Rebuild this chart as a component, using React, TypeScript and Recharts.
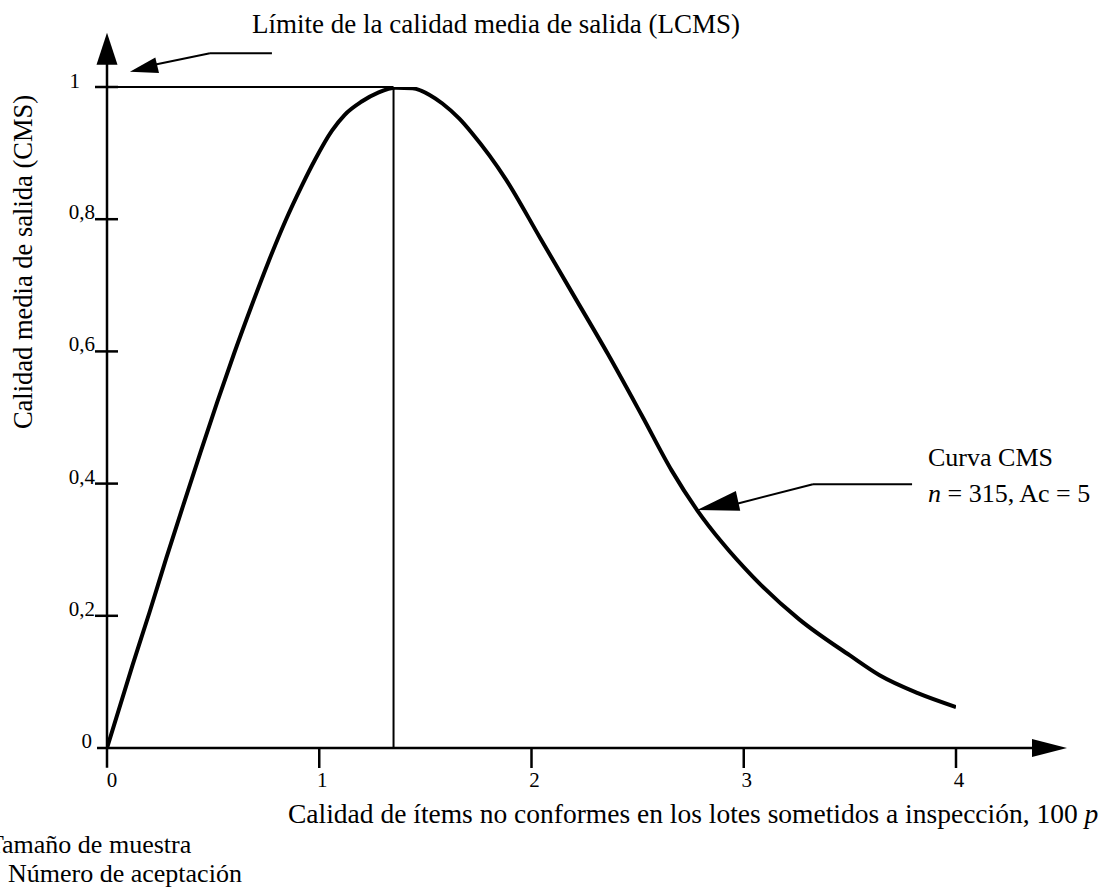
import React from "react";
import {
  LineChart,
  Line,
  XAxis,
  YAxis,
  ReferenceLine,
  ReferenceDot,
} from "recharts";

// Curva CMS (n = 315, Ac = 5)
const pValues = [
  0, 0.12, 0.2, 0.28, 0.36, 0.44, 0.52, 0.6, 0.68, 0.76, 0.84, 0.92, 0.98, 1.06,
  1.12, 1.2, 1.28, 1.36, 1.44, 1.52, 1.58, 1.66, 1.72, 1.88, 2.04, 2.2, 2.36,
  2.52, 2.66, 2.78, 2.9, 3.04, 3.26, 3.5, 3.64, 3.82, 4.0,
];
const cmsValues = [
  0, 0.125, 0.205, 0.288, 0.368, 0.447, 0.524, 0.598, 0.668, 0.735, 0.797,
  0.852, 0.89, 0.934, 0.958, 0.978, 0.992, 0.999, 0.998, 0.988, 0.975, 0.952,
  0.93, 0.86, 0.772, 0.684, 0.596, 0.503, 0.42, 0.36, 0.31, 0.26, 0.195, 0.14,
  0.11, 0.083, 0.062,
];
const xTicks = [0, 1, 2, 3, 4];
const yTicks = [0, 0.2, 0.4, 0.6, 0.8, 1];
const yTickLabels = ["0", "0,2", "0,4", "0,6", "0,8", "1"];
const lcmsValue = 1;
const lcmsP = 1.35;

const data = pValues.map((p, i) => ({ p, cms: cmsValues[i] }));

const FONT = "'Liberation Serif', 'Times New Roman', serif";

const XTick = ({ x, y, payload }: any) => {
  const v = payload.value;
  return (
    <g>
      {v !== 0 && <line x1={x} y1={y} x2={x} y2={y + 20} stroke="#000" strokeWidth={2.5} />}
      <text x={x + (v === 0 ? 5 : 3)} y={y + 39} textAnchor="middle" fontSize={21} fontFamily={FONT} fill="#000">
        {v}
      </text>
    </g>
  );
};

const YTick = ({ x, y, payload }: any) => {
  const v = payload.value;
  const idx = yTicks.indexOf(v);
  const dx = v === 0 ? 15 : v === 1 ? 27 : 12;
  return (
    <g>
      {v !== 0 && <line x1={x - 12} y1={y} x2={x + 11} y2={y} stroke="#000" strokeWidth={2.5} />}
      <text x={x - dx} y={y + (v === 1 ? 1 : 0)} textAnchor="end" fontSize={21} fontFamily={FONT} fill="#000">
        {yTickLabels[idx]}
      </text>
    </g>
  );
};

// triangle with its tip at (cx, cy), pointing along `angle` degrees
const arrowHead = (angle: number, len: number, half: number) => (props: any) => {
  const { cx, cy } = props;
  const a = (angle * Math.PI) / 180;
  const bx = cx - len * Math.cos(a);
  const by = cy - len * Math.sin(a);
  const nx = -Math.sin(a) * half;
  const ny = Math.cos(a) * half;
  return (
    <polygon
      points={`${cx},${cy} ${bx + nx},${by + ny} ${bx - nx},${by - ny}`}
      fill="#000"
    />
  );
};

export default function App() {
  return (
    <div style={{ position: "absolute", left: 0, top: 0, width: 1099, height: 888, background: "#fff" }}>
      <LineChart
        width={1099}
        height={888}
        data={data}
        margin={{ top: 87, right: 143, left: 67, bottom: 100 }}
      >
        <XAxis
          type="number"
          dataKey="p"
          domain={[0, 4]}
          ticks={xTicks}
          axisLine={false}
          tickLine={false}
          tickSize={0}
          tickMargin={0}
          height={40}
          tick={<XTick />}
          allowDataOverflow
        />
        <YAxis
          type="number"
          domain={[0, 1]}
          ticks={yTicks}
          axisLine={false}
          tickLine={false}
          tickSize={0}
          tickMargin={0}
          width={40}
          tick={<YTick />}
          allowDataOverflow
        />

        {/* axes with arrows */}
        <ReferenceLine segment={[{ x: -0.047, y: 0 }, { x: 4.45, y: 0 }]} stroke="#000" strokeWidth={2.5} ifOverflow="visible" />
        <ReferenceLine segment={[{ x: 0, y: -0.03 }, { x: 0, y: 1.05 }]} stroke="#000" strokeWidth={2.5} ifOverflow="visible" />
        <ReferenceDot x={4.523} y={0} r={0} ifOverflow="visible" shape={arrowHead(0, 35, 9)} />
        <ReferenceDot x={0} y={1.082} r={0} ifOverflow="visible" shape={arrowHead(-90, 32, 10.5)} />

        {/* LCMS lines */}
        <ReferenceLine segment={[{ x: 0, y: lcmsValue }, { x: lcmsP, y: lcmsValue }]} stroke="#000" strokeWidth={2} ifOverflow="visible" />
        <ReferenceLine segment={[{ x: lcmsP, y: 0 }, { x: lcmsP, y: lcmsValue }]} stroke="#000" strokeWidth={2} ifOverflow="visible" />

        {/* annotation arrows */}
        <ReferenceLine segment={[{ x: 0.777, y: 1.051 }, { x: 0.485, y: 1.051 }]} stroke="#000" strokeWidth={2} ifOverflow="visible" />
        <ReferenceLine segment={[{ x: 0.485, y: 1.051 }, { x: 0.2, y: 1.032 }]} stroke="#000" strokeWidth={2} ifOverflow="visible" />
        <ReferenceDot x={0.108} y={1.023} r={0} ifOverflow="visible" shape={arrowHead(166.6, 28, 8)} />

        <ReferenceLine segment={[{ x: 3.793, y: 0.399 }, { x: 3.326, y: 0.399 }]} stroke="#000" strokeWidth={2} ifOverflow="visible" />
        <ReferenceLine segment={[{ x: 3.326, y: 0.399 }, { x: 2.95, y: 0.368 }]} stroke="#000" strokeWidth={2} ifOverflow="visible" />
        <ReferenceDot x={2.78} y={0.36} r={0} ifOverflow="visible" shape={arrowHead(167.4, 42, 10)} />

        <Line
          type="monotone"
          dataKey="cms"
          stroke="#000"
          strokeWidth={4}
          dot={false}
          activeDot={false}
          isAnimationActive={false}
        />
      </LineChart>

      <svg
        width={1099}
        height={888}
        style={{ position: "absolute", left: 0, top: 0, pointerEvents: "none" }}
        fontFamily={FONT}
        fontSize={26}
        fill="#000"
      >
        <text x={252} y={33} fontSize={27}>Límite de la calidad media de salida (LCMS)</text>
        <text transform="translate(32,262) rotate(-90)" textAnchor="middle" fontSize={26.5}>
          Calidad media de salida (CMS)
        </text>
        <text x={288} y={823} fontSize={27.5}>
          Calidad de ítems no conformes en los lotes sometidos a inspección, 100 <tspan fontStyle="italic">p</tspan>
        </text>
        <text x={928} y={466}>Curva CMS</text>
        <text x={928} y={502}>
          <tspan fontStyle="italic">n</tspan> = 315, Ac = 5
        </text>
        <text x={-12} y={853}>Tamaño de muestra</text>
        <text x={8} y={882}>Número de aceptación</text>
      </svg>
    </div>
  );
}
